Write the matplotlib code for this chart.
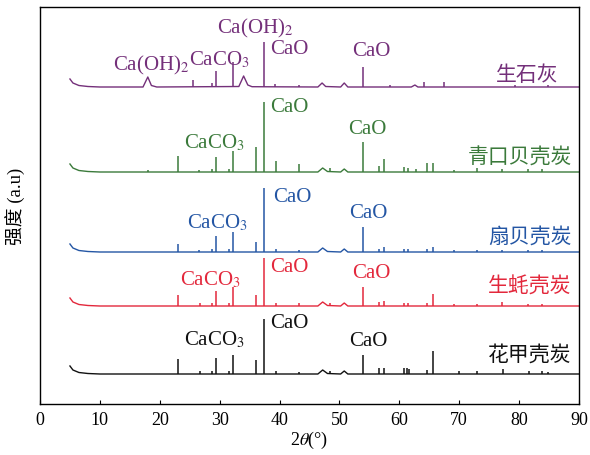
import matplotlib
matplotlib.use("Agg")
import matplotlib.pyplot as plt
import numpy as np

plt.rcParams['font.family'] = ['Liberation Serif', 'Noto Sans CJK SC', 'DejaVu Sans']
plt.rcParams['mathtext.fontset'] = 'stix'

# ---- data (intensity in arbitrary units) ----
names = ['生石灰', '青口贝壳炭', '扇贝壳炭', '生蚝壳炭', '花甲壳炭']
colors = ['#74307a', '#3b7a3b', '#2456a4', '#e3283c', '#111111']
offsets = [317, 232, 152, 98, 30]

# baseline shape (2theta, relative intensity)
base_purple_x = [5, 5.5, 6.5, 8, 10, 17.2, 18.0, 18.6, 19.5, 33.2, 34.0, 34.7, 35.4, 46.4, 47.1, 47.7, 50.2, 50.8, 51.4, 62.0, 62.6, 63.1, 90]
base_purple_y = [8, 4, 1.5, 0.5, 0, 0, 10, 1.5, 0, 0.5, 11, 2, 0.3, 0, 4, 0.5, 0, 4, 0, 0, 2, 0, 0]
base_other_x = [5, 5.5, 6.5, 8, 10, 46.4, 47.2, 48.0, 50.2, 50.8, 51.4, 90]
base_other_y = [8, 4, 1.5, 0.5, 0, 0, 4, 0.5, 0, 3, 0, 0]

# sharp peaks: position (2theta), height
peaks_purple_pos = [25.6, 28.7, 29.4, 32.2, 37.4, 39.3, 43.2, 53.9, 58.4, 64.2, 67.4, 79.3, 84.8]
peaks_purple_h = [7, 4, 16, 25, 45, 3, 2, 20, 2, 5, 5, 2, 2]

peaks_green_pos = [18.0, 23.1, 26.6, 28.7, 29.4, 31.5, 32.2, 36.0, 37.4, 39.4, 43.2, 48.5, 53.9, 56.6, 57.4, 60.7, 61.4, 62.7, 64.7, 65.6, 69.2, 72.9, 77.2, 81.5, 83.8]
peaks_green_h = [2, 16, 2, 3, 15, 3, 21, 25, 70, 11, 8, 4, 30, 6, 13, 5, 4, 3, 9, 9, 2, 4, 3, 3, 3]

peaks_blue_pos = [23.1, 26.6, 28.7, 29.4, 31.5, 32.2, 36.0, 37.4, 39.4, 43.2, 53.9, 56.6, 57.4, 60.7, 61.4, 64.7, 65.6, 69.2, 72.9, 77.2, 81.5, 83.8]
peaks_blue_h = [8, 2, 3, 16, 3, 20, 10, 64, 3, 2, 25, 3, 5, 3, 3, 3, 5, 2, 2, 2, 2, 2]

peaks_red_pos = [23.1, 26.7, 28.7, 29.4, 31.5, 32.2, 36.0, 37.4, 39.4, 43.2, 48.5, 53.9, 56.6, 57.4, 60.7, 61.4, 64.7, 65.6, 69.2, 72.9, 77.2, 81.5, 83.8]
peaks_red_h = [11, 3, 3, 15, 3, 19, 11, 48, 3, 3, 3, 19, 4, 5, 3, 3, 3, 12, 2, 2, 4, 2, 2]

peaks_black_pos = [23.1, 26.7, 28.7, 29.4, 31.5, 32.2, 36.0, 37.4, 39.4, 43.2, 48.5, 53.9, 56.6, 57.4, 60.7, 61.2, 61.6, 64.7, 65.6, 69.9, 72.9, 77.3, 81.6, 83.9, 84.8]
peaks_black_h = [15, 3, 3, 16, 3, 19, 14, 55, 3, 2, 3, 19, 6, 6, 6, 6, 5, 4, 23, 3, 3, 5, 3, 3, 2]

peaks_pos = [peaks_purple_pos, peaks_green_pos, peaks_blue_pos, peaks_red_pos, peaks_black_pos]
peaks_h = [peaks_purple_h, peaks_green_h, peaks_blue_h, peaks_red_h, peaks_black_h]
bases_x = [base_purple_x, base_other_x, base_other_x, base_other_x, base_other_x]
bases_y = [base_purple_y, base_other_y, base_other_y, base_other_y, base_other_y]

# annotations: (text, 2theta, y)
annotations = [
    [('Ca(OH)$_2$', 18.5, 340), ('CaCO$_3$', 29.9, 345), ('Ca(OH)$_2$', 35.9, 377), ('CaO', 41.6, 355), ('CaO', 55.4, 353)],
    [('CaCO$_3$', 29.2, 262), ('CaO', 41.7, 297), ('CaO', 54.6, 275)],
    [('CaCO$_3$', 29.7, 182), ('CaO', 42.1, 208), ('CaO', 54.8, 192)],
    [('CaCO$_3$', 28.5, 125), ('CaO', 41.6, 138), ('CaO', 55.4, 132)],
    [('CaCO$_3$', 29.2, 65), ('CaO', 41.6, 82), ('CaO', 54.8, 63)],
]
label_pos = [(86.5, 330), (88.8, 247), (88.8, 168), (88.8, 118), (88.8, 50)]

xticks = [0, 10, 20, 30, 40, 50, 60, 70, 80, 90]

fig = plt.figure(figsize=(5.9, 4.56), dpi=100)
ax = fig.add_axes([40/590, 51/456, 539/590, 397/456])

for i in range(5):
    off = offsets[i]
    bx = np.array(bases_x[i]); by = np.array(bases_y[i]) + off
    ax.plot(bx, by, color=colors[i], lw=1.0)
    ax.vlines(peaks_pos[i], off, np.array(peaks_h[i]) + off, color=colors[i], lw=1.1)
    for t, x, y in annotations[i]:
        ax.text(x, y, t, color=colors[i], fontsize=15, ha='center', va='center')
    lx, ly = label_pos[i]
    ax.text(lx, ly, names[i], color=colors[i], fontsize=15, ha='right', va='center',
            family=['Noto Sans CJK SC'], fontweight='light')

ax.set_xlim(0, 90)
ax.set_ylim(0, 397)
ax.set_xticks(xticks)
ax.set_yticks([])
ax.tick_params(axis='x', direction='in', length=3, labelsize=13, pad=5)
for s in ax.spines.values():
    s.set_linewidth(1.0)
ax.set_xlabel('2$\\theta$(°)', fontsize=13, labelpad=1)
ax.set_ylabel('强度 (a.u)', fontsize=13.5, labelpad=10)

fig.savefig('out.png', dpi=100)
